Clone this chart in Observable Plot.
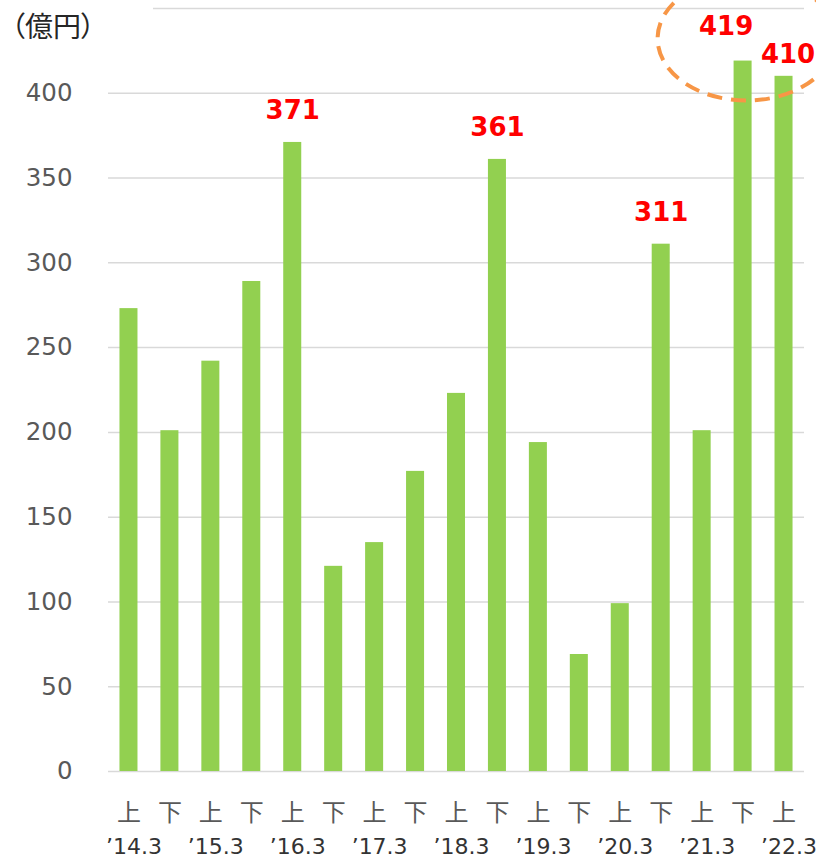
<!DOCTYPE html>
<html><head><meta charset="utf-8">
<script src="https://cdn.jsdelivr.net/npm/d3@7"></script>
<script src="https://cdn.jsdelivr.net/npm/@observablehq/plot@0.6"></script>
<style>
body{margin:0;background:#fff;}
#wrap{position:relative;width:816px;height:858px;overflow:hidden;}
#unit{position:absolute;left:0;top:0;width:153px;height:44px;background:#fff;font-family:"Noto Sans CJK JP";font-size:28px;color:#262626;padding-left:11px;line-height:50px;box-sizing:border-box;font-feature-settings:"palt";}
</style></head><body><div id="wrap"><div id="chart"></div><div id="unit">（億円）</div></div>
<script>
const half = ["上","下","上","下","上","下","上","下","上","下","上","下","上","下","上","下","上"];
const years = ["’14.3","’15.3","’16.3","’17.3","’18.3","’19.3","’20.3","’21.3","’22.3"];
const values = [273, 201, 242, 289, 371, 121, 135, 177, 223, 361, 194, 69, 99, 311, 201, 419, 410];
const yTicks = [0, 50, 100, 150, 200, 250, 300, 350, 400];
const gridTicks = [0, 50, 100, 150, 200, 250, 300, 350, 400, 450];
const labelIdx = [4, 9, 13];
const circledIdx = [15, 16];

const data = values.map((v, i) => ({i, half: half[i], v}));
const firstHalfIdx = data.filter(d => d.half === "上").map(d => d.i);
const yearOf = new Map(firstHalfIdx.map((k, j) => [k, years[j]]));

const font = '"DejaVu Sans", "Noto Sans CJK JP", sans-serif';

const plot = Plot.plot({
  width: 816,
  height: 858,
  marginLeft: 108,
  marginRight: 12,
  marginTop: 8,
  marginBottom: 87,
  style: {fontFamily: font, color: "#595959", overflow: "visible", background: "transparent"},
  x: {type: "band", domain: data.map(d => d.i), paddingInner: 0.56, paddingOuter: 0.28, round: false},
  y: {domain: [0, 450]},
  marks: [
    Plot.gridY(gridTicks, {stroke: "#D9D9D9", strokeOpacity: 1, strokeWidth: 1.5}),
    Plot.barY(data, {x: "i", y: "v", fill: "#92D050"}),
    Plot.axisY(yTicks, {tickSize: 0, tickPadding: 36, fontSize: 24.5, label: null, fill: "#595959"}),
    Plot.axisX({tickSize: 0, tickPadding: 32, fontSize: 24, label: null, tickFormat: i => half[i], fill: "#595959", fontFamily: '"Noto Sans CJK JP"'}),
    Plot.axisX(firstHalfIdx, {tickSize: 0, tickPadding: 67, fontSize: 22, label: null, tickFormat: i => yearOf.get(i), fill: "#333333", dx: 5}),
    Plot.text(data.filter(d => labelIdx.includes(d.i)), {x: "i", y: "v", text: d => String(d.v), dy: -23, lineAnchor: "bottom", fill: "#FF0000", fontWeight: "bold", fontSize: 26}),
    Plot.text(data.filter(d => d.i === circledIdx[0]), {x: "i", y: "v", text: d => String(d.v), dy: -26, dx: -17, lineAnchor: "bottom", fill: "#FF0000", fontWeight: "bold", fontSize: 26}),
    Plot.text(data.filter(d => d.i === circledIdx[1]), {x: "i", y: "v", text: d => String(d.v), dy: -13, dx: 4, lineAnchor: "bottom", fill: "#FF0000", fontWeight: "bold", fontSize: 26})
  ]
});

const xs = plot.scale("x"), ys = plot.scale("y");
const cx = xs.apply(circledIdx[0]) + xs.bandwidth / 2 + 4;
const cy = ys.apply(432);
d3.select(plot).append("ellipse")
  .attr("cx", cx).attr("cy", cy).attr("rx", 89).attr("ry", 62)
  .attr("fill", "none").attr("stroke", "#F79646").attr("stroke-width", 4)
  .attr("stroke-dasharray", "15 9");

document.getElementById("chart").append(plot);
</script>
</body></html>
